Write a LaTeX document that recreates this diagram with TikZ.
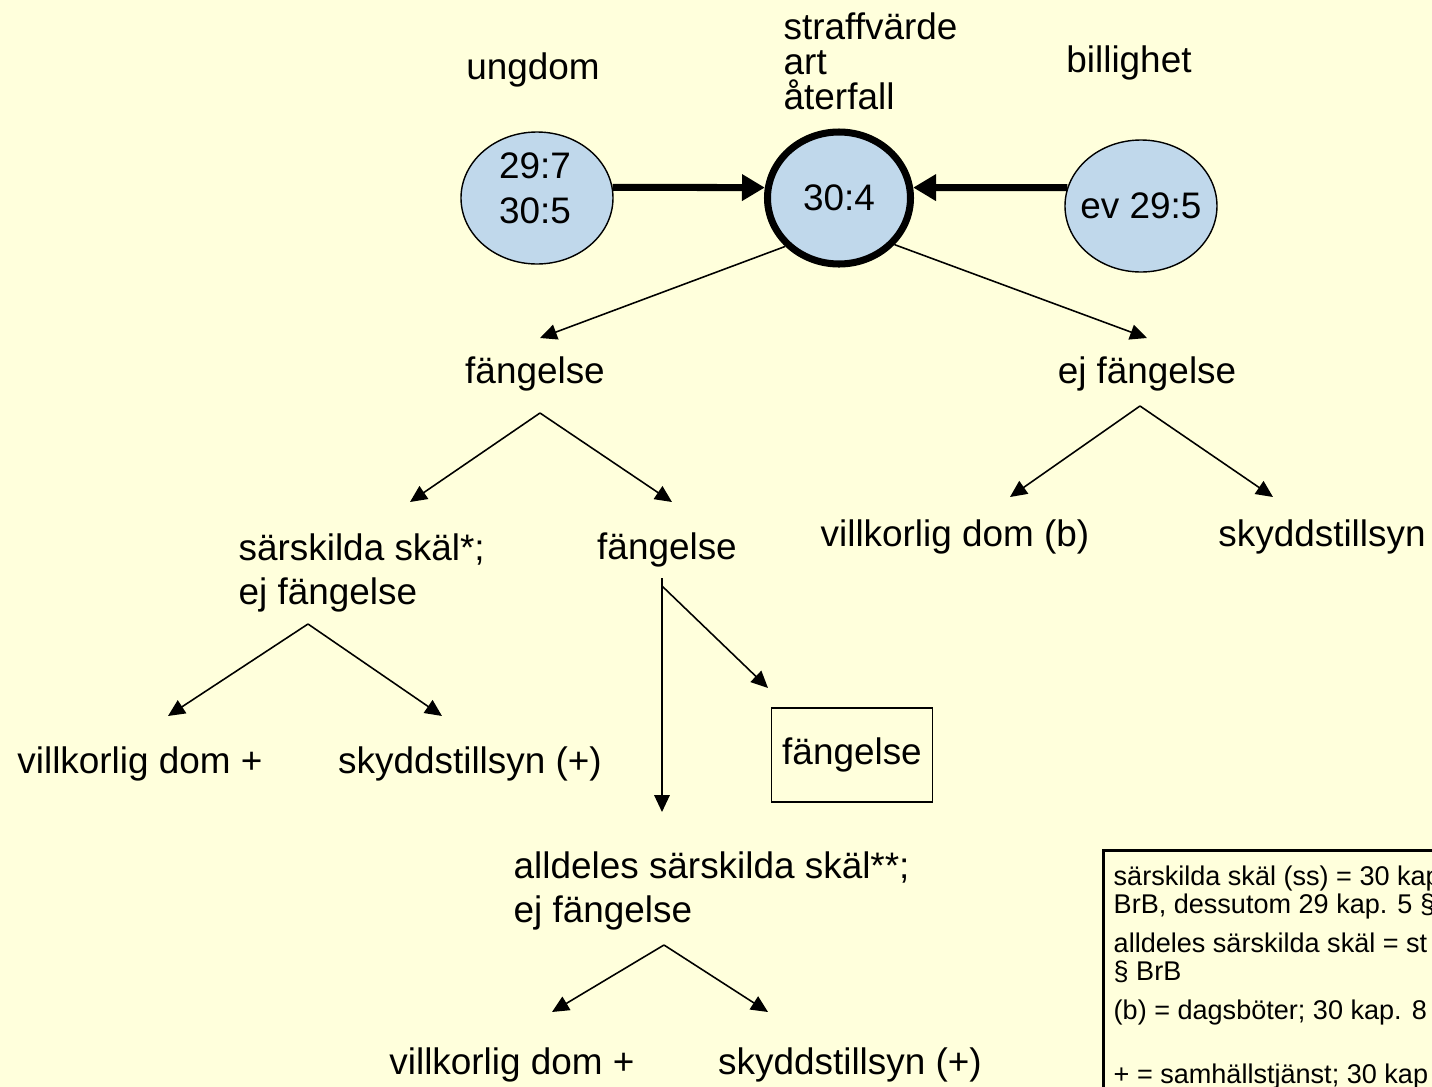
\documentclass[tikz,border=0pt]{standalone}
\usepackage{fontspec}
\setmainfont{Liberation Sans}
\usetikzlibrary{arrows.meta,shapes.geometric}
\definecolor{paper}{RGB}{255,255,220}
\definecolor{lawblue}{RGB}{192,216,235}

\begin{document}
\begin{tikzpicture}[x=0.1mm,y=-0.1mm]
\tikzstyle{txt}=[inner sep=0pt,font=\fontsize{10.5pt}{12.5pt}\selectfont]
\tikzstyle{two}=[txt,anchor=west,align=left]
\tikzstyle{law}=[ellipse,draw,line width=0.4pt,fill=lawblue,inner sep=0pt,minimum width=15.2mm,minimum height=13.2mm,font=\fontsize{10.5pt}{12.8pt}\selectfont]
\tikzstyle{push}=[line width=2pt,-{Triangle[length=6.5pt,width=7.2pt]}]
\tikzstyle{branch}=[line width=0.45pt,-{Triangle[length=4.8pt,width=4.4pt]}]
\useasboundingbox (0,0) rectangle (1432,1087);
\clip (0,0) rectangle (1432,1087);
\fill [paper] (0,0) rectangle (1432,1087);
% ========= top row
\node (ungdom) at (533,70) [txt] {ungdom};
\node (kriterier) at (783,61) [txt,anchor=west,align=left,font=\fontsize{10.5pt}{9.96pt}\selectfont] {straffvärde\\art\\återfall};
\node (billighet) at (1129,63) [txt] {billighet};

\node (ungdomE) at (537,198) [law] {};
\node (ungdomT) at (535,188) [txt,align=center,font=\fontsize{10.5pt}{12.8pt}\selectfont] {29:7\\30:5};
\node (mainE) at (839,198) [law,line width=2pt,minimum width=14.3mm] {30:4};
\node (billE) at (1141,206) [law] {\makebox[0pt]{ev 29:5}};
% ========= outcomes
\node (fang) at (535,374) [txt] {fängelse};
\node (ejfang) at (1147,374) [txt] {ej fängelse};
\node (sarsk) at (238,573) [two] {särskilda skäl*;\\ej fängelse};
\node (fang2) at (667,550) [txt] {fängelse};
\node (villkorB) at (955,537) [txt] {villkorlig dom (b)};
\node (skydd) at (1322,537) [txt] {skyddstillsyn};
\node (villkor1) at (140,764) [txt] {villkorlig dom +};
\node (skydd1) at (470,764) [txt] {skyddstillsyn (+)};
\node (fangBox) at (852,755) [txt,draw,line width=0.45pt,minimum width=16.1mm,minimum height=9.4mm] {fängelse};
\node (alldeles) at (513,891) [two] {alldeles särskilda skäl**;\\ej fängelse};
\node (villkor2) at (512,1065) [txt] {villkorlig dom +};
\node (skydd2) at (850,1065) [txt] {skyddstillsyn (+)};
% ========= legend
\node (legend) at (1102,849) [anchor=north west,draw,line width=0.85pt,fill=paper,minimum width=40mm,minimum height=30mm] {};
\node (legendText) at (1113,865) [anchor=north west,inner sep=0pt,align=left,font=\fontsize{7.7pt}{7.97pt}\selectfont] {särskilda skäl (ss) = 30 kap\\BrB, dessutom 29 kap. 5 §\\[1.1mm]alldeles särskilda skäl = st\\§ BrB\\[1.1mm](b) = dagsböter; 30 kap. 8\\[3.6mm]+ = samhällstjänst; 30 kap};
% ========= arrow ends
\coordinate (fangTip) at (540,338);
\coordinate (ejfangTip) at (1147,338);
\coordinate (fangFork) at (540,413);
\coordinate (fangL) at (410,502);
\coordinate (fangR) at (672,502);
\coordinate (ejfangFork) at (1140,406);
\coordinate (ejfangL) at (1010,497);
\coordinate (ejfangR) at (1273,497);
\coordinate (sarskFork) at (308,624);
\coordinate (sarskL) at (168,716);
\coordinate (sarskR) at (442,716);
\coordinate (fang2Top) at (662,578);
\coordinate (fang2Fork) at (662,586);
\coordinate (fang2Down) at (662,812);
\coordinate (fang2Box) at (768,688);
\coordinate (alldelesFork) at (664,945);
\coordinate (alldelesL) at (552,1012);
\coordinate (alldelesR) at (768,1012);
% ====== connections
\draw [push] (ungdomE.8) -- (mainE.172);
\draw [push] (billE.166) -- (mainE.8);
\draw [branch] (mainE.222) -- (fangTip);
\draw [branch] (mainE.320) -- (ejfangTip);
\draw [branch] (fangFork) -- (fangL);
\draw [branch] (fangFork) -- (fangR);
\draw [branch] (ejfangFork) -- (ejfangL);
\draw [branch] (ejfangFork) -- (ejfangR);
\draw [branch] (sarskFork) -- (sarskL);
\draw [branch] (sarskFork) -- (sarskR);
\draw [branch] (fang2Top) -- (fang2Down);
\draw [branch] (fang2Fork) -- (fang2Box);
\draw [branch] (alldelesFork) -- (alldelesL);
\draw [branch] (alldelesFork) -- (alldelesR);
\end{tikzpicture}
\end{document}
